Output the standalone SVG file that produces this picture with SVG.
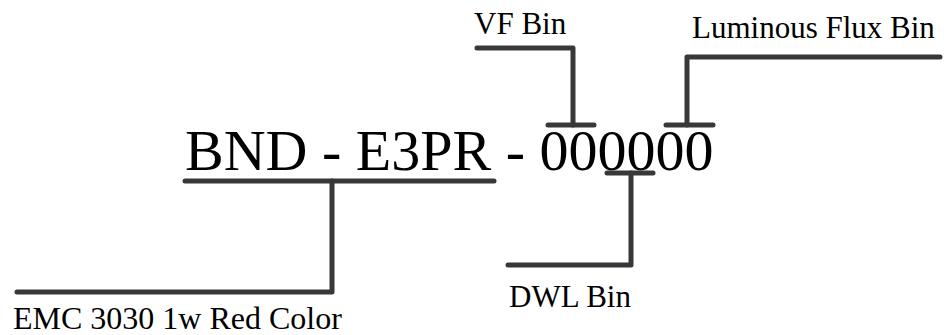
<svg xmlns="http://www.w3.org/2000/svg" width="944" height="335" viewBox="0 0 944 335">
<style>
.ln{fill:none;stroke:#383838;stroke-width:5;stroke-linecap:round;stroke-linejoin:round}
</style>
<rect width="944" height="335" fill="#fff"/>
<g font-family="'Liberation Serif', 'Times New Roman', Times, serif" fill="#000">
<g id="code"><text font-size="58" x="185" y="170">BND - E3PR - 000000</text></g>
<g id="vf-bin"><text font-size="31" x="474" y="34">VF Bin</text></g>
<g id="lum-bin"><text font-size="31" x="692" y="38">Luminous Flux Bin</text></g>
<g id="dwl-bin"><text font-size="31" x="509" y="307">DWL Bin</text></g>
<g id="emc"><text font-size="32" x="13" y="329">EMC 3030 1w Red Color</text></g>
</g>
<g id="connectors">
<path class="ln" d="M185,181 H494"/>
<path class="ln" d="M332,181 V292 H17"/>
<path class="ln" d="M548,125 H594"/>
<path class="ln" d="M573,125 V48 H477"/>
<path class="ln" d="M666,125 H713"/>
<path class="ln" d="M687,125 V57 H940"/>
<path class="ln" d="M607,173 H653"/>
<path class="ln" d="M631,173 V265 H508"/>
</g>
</svg>
